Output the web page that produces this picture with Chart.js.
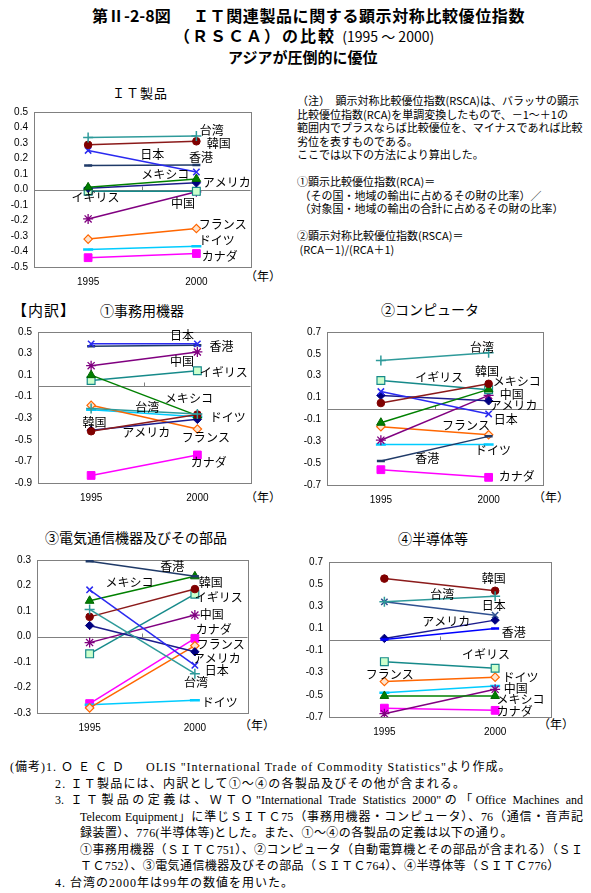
<!DOCTYPE html>
<html>
<head>
<meta charset="utf-8">
<script src="https://cdn.jsdelivr.net/npm/chart.js@4.4.0/dist/chart.umd.min.js"></script>
<style>
  body { margin: 0; background: #fff; }
  #page { position: relative; width: 591px; height: 893px; overflow: hidden;
          font-family: "Noto Sans CJK JP", sans-serif; color: #000; }
  .t { position: absolute; white-space: pre; line-height: 1; }
  .b { font-weight: bold; }
  .note { position: absolute; left: 297px; top: 94px; font-size: 11px; line-height: 13.5px; white-space: pre; }
  .rem { position: absolute; font-family: "Liberation Serif", "Noto Sans CJK JP", serif; font-size: 12px;
         line-height: 15px; white-space: pre; }
  .just { text-align: justify; text-align-last: justify; }
  canvas { position: absolute; }
</style>
</head>
<body>
<div id="page">
  <div class="t b" style="left:92px;top:7px;font-size:16px;">第Ⅱ-2-8図</div>
  <div class="t b" style="left:193px;top:7px;font-size:16px;letter-spacing:0.6px;">ＩＴ関連製品に関する顕示対称比較優位指数</div>
  <div class="t" style="left:174px;top:27px;"><span class="b" style="font-size:16px;letter-spacing:2px;">（ＲＳＣＡ）の比較</span><span style="font-size:14px;">  (1995 ～ 2000)</span></div>
  <div class="t b" style="left:228px;top:49px;font-size:15px;">アジアが圧倒的に優位</div>

  <div class="t" style="left:112px;top:86px;font-size:13px;letter-spacing:1px;">ＩＴ製品</div>
  <div class="t" style="left:12px;top:302px;font-size:15px;letter-spacing:1px;">【内訳】</div>
  <div class="t" style="left:100px;top:303px;font-size:14px;">①事務用機器</div>
  <div class="t" style="left:381px;top:302px;font-size:14px;">②コンピュータ</div>
  <div class="t" style="left:45px;top:530px;font-size:14px;">③電気通信機器及びその部品</div>
  <div class="t" style="left:398px;top:531px;font-size:14px;">④半導体等</div>

  <div class="t" style="left:245px;top:270px;font-size:12px;">（年）</div>
  <div class="t" style="left:245px;top:491px;font-size:12px;">（年）</div>
  <div class="t" style="left:533px;top:491px;font-size:12px;">（年）</div>
  <div class="t" style="left:239px;top:719px;font-size:12px;">（年）</div>
  <div class="t" style="left:538px;top:718px;font-size:12px;">（年）</div>

  <div class="note">（注）　顕示対称比較優位指数(RSCA)は、バラッサの顕示
比較優位指数(RCA)を単調変換したもので、－1～＋1の
範囲内でプラスならば比較優位を、マイナスであれば比較
劣位を表すものである。
ここでは以下の方法により算出した。

①顕示比較優位指数(RCA)＝
 （その国・地域の輸出に占めるその財の比率）／
 （対象国・地域の輸出の合計に占めるその財の比率）

②顕示対称比較優位指数(RSCA)＝
 (RCA－1)/(RCA＋1)</div>

  <div class="rem" style="left:10px;top:760px;letter-spacing:1px;">(備考)1. <span style="letter-spacing:5px;">ＯＥＣＤ</span>　 OLIS "International Trade of Commodity Statistics"より作成。</div>
  <div class="rem" style="left:55px;top:777px;letter-spacing:1.2px;">2. ＩＴ製品には、内訳として①～④の各製品及びその他が含まれる。</div>
  <div class="rem just" style="left:55px;top:793px;width:528px;">3. ＩＴ製品の定義は、ＷＴＯ"International Trade Statistics 2000"の「Office Machines and</div>
  <div class="rem just" style="left:80px;top:810px;width:503px;">Telecom Equipment」に準じＳＩＴＣ75（事務用機器・コンピュータ）、76（通信・音声記</div>
  <div class="rem" style="left:80px;top:826px;letter-spacing:0.45px;">録装置）、776(半導体等)とした。また、①～④の各製品の定義は以下の通り。</div>
  <div class="rem just" style="left:80px;top:843px;width:503px;">①事務用機器（ＳＩＴＣ751）、②コンピュータ（自動電算機とその部品が含まれる）（ＳＩ</div>
  <div class="rem" style="left:80px;top:859px;letter-spacing:0.4px;">ＴＣ752）、③電気通信機器及びその部品（ＳＩＴＣ764）、④半導体等（ＳＩＴＣ776）</div>
  <div class="rem" style="left:55px;top:876px;letter-spacing:1px;">4. 台湾の2000年は99年の数値を用いた。</div>
</div>

<script>
// 年と国・地域
const years = ['1995', '2000'];
const countries = ['台湾', '韓国', '日本', '香港', 'メキシコ', 'アメリカ', 'イギリス', '中国', 'フランス', 'ドイツ', 'カナダ'];

// ＩＴ製品
const it1995 = [0.335, 0.288, 0.252, 0.155, 0.014, 0.008, -0.011, -0.19, -0.32, -0.387, -0.44];
const it2000 = [0.345, 0.311, 0.113, 0.158, 0.068, 0.043, -0.012, -0.015, -0.252, -0.366, -0.413];
// ①事務用機器
const office1995 = [-0.21, -0.42, 0.39, 0.367, 0.10, -0.41, 0.05, 0.188, -0.18, -0.22, -0.83];
const office2000 = [-0.26, -0.265, 0.39, 0.376, -0.275, -0.31, 0.14, 0.315, -0.40, -0.285, -0.64];
// ②コンピュータ
const comp1995 = [0.44, 0.05, 0.155, -0.48, -0.13, 0.12, 0.256, -0.29, -0.166, -0.33, -0.56];
const comp2000 = [0.51, 0.226, -0.05, -0.255, 0.175, 0.07, 0.172, 0.12, -0.24, -0.33, -0.63];
// ③電気通信機器及びその部品
const tele1995 = [0.106, 0.077, 0.183, 0.295, 0.14, 0.043, -0.068, -0.024, -0.28, -0.268, -0.263];
const tele2000 = [-0.146, 0.186, -0.113, 0.236, 0.236, -0.06, 0.166, 0.084, -0.036, -0.25, -0.007];
// ④半導体等
const semi1995 = [0.34, 0.55, 0.34, 0.0, -0.51, 0.01, -0.20, -0.67, -0.38, -0.48, -0.62];
const semi2000 = [0.39, 0.44, 0.22, 0.10, -0.51, 0.175, -0.26, -0.45, -0.34, -0.42, -0.64];

const seriesStyle = {
  '台湾':     { line: '#2E9A9A', mark: '#2E9A9A', fill: '#2E9A9A', point: 'cross', r: 5, bw: 1.5 },
  '韓国':     { line: '#8B1A1A', mark: '#800000', fill: '#800000', point: 'circle', r: 3.8, bw: 1 },
  '日本':     { line: '#2A2AF0', mark: '#2A2AF0', fill: '#2A2AF0', point: 'crossRot', r: 4.5, bw: 1.5 },
  '香港':     { line: '#1F3A68', mark: '#1F3A68', fill: '#1F3A68', point: 'line', r: 4, bw: 2.5 },
  'メキシコ': { line: '#008000', mark: '#006400', fill: '#008000', point: 'triangle', r: 5, bw: 1 },
  'アメリカ': { line: '#1C1C8C', mark: '#000080', fill: '#000080', point: 'rectRot', r: 4.2, bw: 1 },
  'イギリス': { line: '#168A8A', mark: '#168A8A', fill: '#CCFFCC', point: 'rect', r: 5.5, bw: 1.2 },
  '中国':     { line: '#800080', mark: '#800080', fill: '#800080', point: 'star', r: 5, bw: 1.3 },
  'フランス': { line: '#FF6600', mark: '#FF6600', fill: '#FFE3CC', point: 'rectRot', r: 4.2, bw: 1.2 },
  'ドイツ':   { line: '#00CCFF', mark: '#00CCFF', fill: '#00CCFF', point: 'line', r: 5, bw: 2.5 },
  'カナダ':   { line: '#FF00FF', mark: '#FF00FF', fill: '#FF00FF', point: 'rect', r: 5.5, bw: 1 }
};

// 系列名の位置（描画領域に対する割合）
const namePos = {
  it: { '台湾': [0.821, 0.119], '韓国': [0.853, 0.201], '日本': [0.546, 0.277], '香港': [0.771, 0.296],
        'メキシコ': [0.606, 0.403], 'アメリカ': [0.89, 0.453], 'イギリス': [0.284, 0.553], '中国': [0.688, 0.591],
        'フランス': [0.872, 0.723], 'ドイツ': [0.844, 0.83], 'カナダ': [0.858, 0.931] },
  office: { '日本': [0.678, 0.026], '香港': [0.864, 0.097], '中国': [0.678, 0.194], 'イギリス': [0.874, 0.271],
        'メキシコ': [0.71, 0.439], '台湾': [0.514, 0.497], 'ドイツ': [0.893, 0.568], '韓国': [0.266, 0.6],
        'アメリカ': [0.509, 0.665], 'フランス': [0.79, 0.697], 'カナダ': [0.804, 0.865] },
  comp: { '台湾': [0.719, 0.102], 'イギリス': [0.521, 0.299], '韓国': [0.742, 0.255], 'メキシコ': [0.88, 0.325],
        '中国': [0.857, 0.408], 'アメリカ': [0.866, 0.478], '日本': [0.829, 0.573], 'フランス': [0.645, 0.611],
        'ドイツ': [0.77, 0.777], '香港': [0.465, 0.828], 'カナダ': [0.88, 0.943] },
  tele: { '香港': [0.642, 0.045], 'メキシコ': [0.439, 0.146], '韓国': [0.825, 0.146], 'イギリス': [0.863, 0.242],
        '中国': [0.83, 0.357], 'カナダ': [0.84, 0.452], 'フランス': [0.873, 0.554], 'アメリカ': [0.854, 0.643],
        '日本': [0.854, 0.72], '台湾': [0.755, 0.803], 'ドイツ': [0.868, 0.93] },
  semi: { '韓国': [0.744, 0.107], '台湾': [0.511, 0.208], '日本': [0.744, 0.283], 'アメリカ': [0.529, 0.384],
        '香港': [0.834, 0.453], 'イギリス': [0.709, 0.597], 'フランス': [0.274, 0.723], 'ドイツ': [0.865, 0.742],
        '中国': [0.843, 0.818], 'メキシコ': [0.865, 0.887], 'カナダ': [0.839, 0.962] }
};

const AXIS_W = 40, PAD_T = 8, PAD_R = 6, AXIS_H = 26;

function makeChart(box, yMin, yMax, step, v95, v00, pos, over) {
  const canvas = document.createElement('canvas');
  const w = box.w + AXIS_W + PAD_R, h = box.h + PAD_T + AXIS_H;
  canvas.width = w; canvas.height = h;
  canvas.style.left = (box.x - AXIS_W) + 'px';
  canvas.style.top = (box.y - PAD_T) + 'px';
  canvas.style.width = w + 'px'; canvas.style.height = h + 'px';
  document.getElementById('page').appendChild(canvas);

  const datasets = countries.map((name, i) => {
    const s = Object.assign({}, seriesStyle[name], over && over[name]);
    return {
      label: name,
      data: [v95[i], v00[i]],
      borderColor: s.line,
      backgroundColor: s.fill,
      borderWidth: 1.5,
      pointStyle: s.point,
      pointRadius: s.r,
      pointBorderWidth: s.bw,
      pointBackgroundColor: s.fill,
      pointBorderColor: s.mark,
      tension: 0
    };
  });

  const frame = {
    id: 'frame',
    beforeDatasetsDraw(chart) {
      const { ctx, chartArea: a } = chart;
      const y0 = Math.round(chart.scales.y.getPixelForValue(0)) + 0.5;
      const xm = Math.round((a.left + a.right) / 2) + 0.5;
      ctx.save();
      ctx.strokeStyle = '#808080';
      ctx.lineWidth = 1;
      ctx.strokeRect(Math.round(a.left) + 0.5, Math.round(a.top) + 0.5,
                     Math.round(a.right - a.left), Math.round(a.bottom - a.top));
      ctx.beginPath();
      ctx.moveTo(a.left, y0); ctx.lineTo(a.right, y0);
      ctx.moveTo(xm, y0); ctx.lineTo(xm, y0 - 4);
      ctx.stroke();
      ctx.restore();
    }
  };

  const names = {
    id: 'names',
    afterDatasetsDraw(chart) {
      const { ctx, chartArea: a } = chart;
      ctx.save();
      ctx.font = '12px "Noto Sans CJK JP", sans-serif';
      ctx.fillStyle = '#000';
      ctx.textAlign = 'center';
      ctx.textBaseline = 'middle';
      Object.keys(pos).forEach(name => {
        const p = pos[name];
        ctx.fillText(name, a.left + p[0] * (a.right - a.left), a.top + p[1] * (a.bottom - a.top));
      });
      ctx.restore();
    }
  };

  return new Chart(canvas, {
    type: 'line',
    data: { labels: years, datasets },
    options: {
      responsive: false,
      animation: false,
      devicePixelRatio: 1,
      layout: { padding: { top: PAD_T, right: PAD_R, left: 0, bottom: 0 } },
      plugins: { legend: { display: false }, tooltip: { enabled: false } },
      scales: {
        x: {
          type: 'category',
          offset: true,
          grid: { display: false, drawTicks: false },
          border: { display: false },
          ticks: { color: '#000', padding: 9, font: { family: '"Liberation Sans", Arial, sans-serif', size: 10 } },
          afterFit: s => { s.height = AXIS_H; }
        },
        y: {
          min: yMin, max: yMax,
          grid: { display: false, drawTicks: false },
          border: { display: false },
          ticks: {
            stepSize: step, autoSkip: false, color: '#000', padding: 6,
            font: { family: '"Liberation Sans", Arial, sans-serif', size: 10 },
            callback: v => Number(v).toFixed(1)
          },
          afterFit: s => { s.width = AXIS_W; }
        }
      }
    },
    plugins: [frame, names]
  });
}

makeChart({ x: 34, y: 108, w: 218, h: 159 }, -0.5, 0.5, 0.1, it1995, it2000, namePos.it);
makeChart({ x: 38, y: 328, w: 214, h: 155 }, -0.9, 0.5, 0.2, office1995, office2000, namePos.office);
makeChart({ x: 327, y: 328, w: 217, h: 157 }, -0.7, 0.7, 0.2, comp1995, comp2000, namePos.comp);
makeChart({ x: 37, y: 556, w: 212, h: 157 }, -0.3, 0.3, 0.1, tele1995, tele2000, namePos.tele);
makeChart({ x: 329, y: 558, w: 223, h: 159 }, -0.7, 0.7, 0.2, semi1995, semi2000, namePos.semi,
  { '日本': { line: '#2F5090', mark: '#2F5090', fill: '#2F5090' },
    '香港': { line: '#0000FF', mark: '#0000FF', fill: '#0000FF' } });
</script>
</body>
</html>
